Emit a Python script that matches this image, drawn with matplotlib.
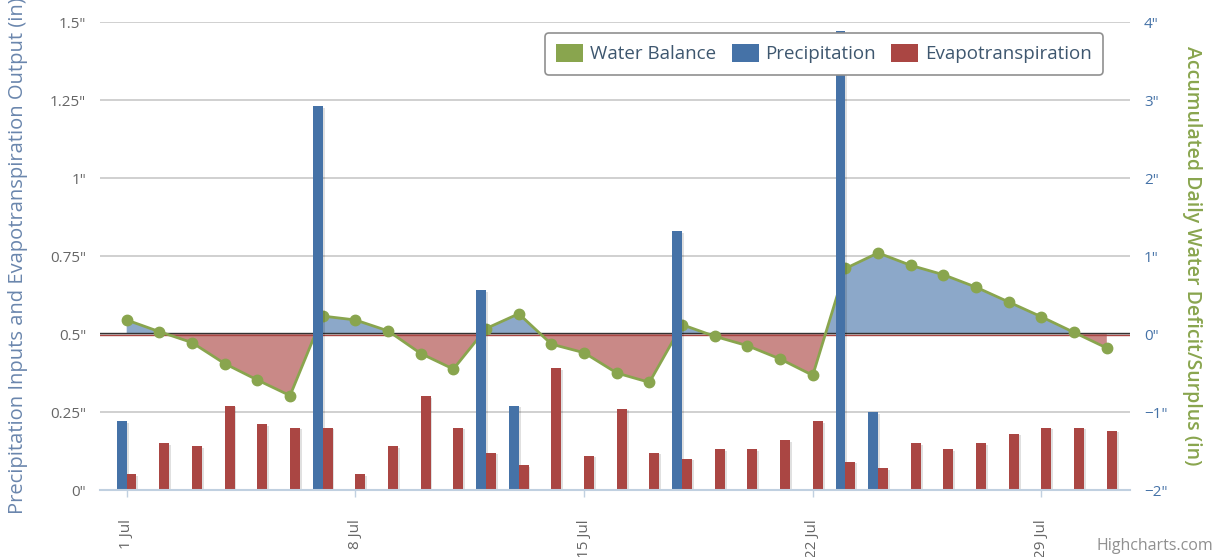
import numpy as np
import matplotlib
matplotlib.use('Agg')
import matplotlib.pyplot as plt
from matplotlib.patches import Patch

plt.rcParams['font.family'] = ['Open Sans', 'DejaVu Sans']

# Daily data for July
days = np.arange(1, 32)
precip = [0.22, 0, 0, 0, 0, 0, 1.23, 0, 0, 0, 0, 0.64, 0.27, 0, 0, 0, 0, 0.83,
          0, 0, 0, 0, 1.47, 0.25, 0, 0, 0, 0, 0, 0, 0]
et = [0.05, 0.15, 0.14, 0.27, 0.21, 0.20, 0.20, 0.05, 0.14, 0.30, 0.20, 0.12,
      0.08, 0.39, 0.11, 0.26, 0.12, 0.10, 0.13, 0.13, 0.16, 0.22, 0.09, 0.07,
      0.15, 0.13, 0.15, 0.18, 0.20, 0.20, 0.19]
balance = [0.18, 0.03, -0.11, -0.38, -0.59, -0.79, 0.23, 0.18, 0.04, -0.25,
           -0.45, 0.07, 0.26, -0.13, -0.24, -0.50, -0.62, 0.12, -0.03, -0.15,
           -0.32, -0.53, 0.84, 1.04, 0.88, 0.76, 0.60, 0.41, 0.22, 0.02, -0.18]
tick_days = [1, 8, 15, 22, 29]
tick_labels = ['1 Jul', '8 Jul', '15 Jul', '22 Jul', '29 Jul']

blue = '#4572A7'
red = '#AA4643'
green = '#89A54E'

fig = plt.figure(figsize=(12.21, 5.57), dpi=100)
ax = fig.add_axes([100 / 1221, 1 - 490 / 557, 1030 / 1221, 468 / 557])
ax2 = ax.twinx()
ax.set_zorder(2)
ax2.set_zorder(1)
ax.patch.set_visible(False)

# water balance area on the right axis
bal = np.array(balance)
ax2.grid(axis='y', color='#c8c8c8', lw=1.2)
ax2.set_axisbelow(True)
ax2.fill_between(days, bal, 0, where=bal >= 0, interpolate=True,
                 color='#8ca8c9', lw=0, zorder=2)
ax2.fill_between(days, bal, 0, where=bal <= 0, interpolate=True,
                 color='#c98987', lw=0, zorder=2)
ax2.axhline(-0.01, color=red, lw=1.0, zorder=3)
ax2.axhline(0.012, color='#333333', lw=1.0, zorder=3)
ax2.plot(days, bal, color=green, lw=2, marker='o', ms=7.5, zorder=4)

# bars on the left axis, with a soft shadow
w = 0.3
for d, p, e in zip(days, precip, et):
    if p > 0:
        ax.bar(d - w / 2 + 0.045, p - 0.005, width=w + 0.03, color='black',
               alpha=0.12, lw=0, zorder=1)
    ax.bar(d + w / 2 + 0.045, e - 0.005, width=w + 0.03, color='black',
           alpha=0.12, lw=0, zorder=1)
ax.bar(days - w / 2, precip, width=w, color=blue, lw=0, zorder=2)
ax.bar(days + w / 2, et, width=w, color=red, lw=0, zorder=2)

ax.set_xlim(0.183, 31.71)
ax.set_ylim(0, 1.5)
ax2.set_ylim(-2, 4)

ax.set_yticks([0, 0.25, 0.5, 0.75, 1, 1.25, 1.5])
ax.set_yticklabels(['0"', '0.25"', '0.5"', '0.75"', '1"', '1.25"', '1.5"'])
ax2.set_yticks([-2, -1, 0, 1, 2, 3, 4])
ax2.set_yticklabels(['\u22122"', '\u22121"', '0"', '1"', '2"', '3"', '4"'])
ax.set_xticks(tick_days)
ax.set_xticklabels(tick_labels, rotation=90, ha='center', va='top')

ax.tick_params(axis='y', length=0, pad=10, labelsize=11, labelcolor='#666666')
ax2.tick_params(axis='y', length=0, pad=10, labelsize=11, labelcolor=blue)
ax.tick_params(axis='x', length=5, width=1, color='#C0D0E0', pad=16,
               labelsize=11, labelcolor='#666666')

for s in ax.spines.values():
    s.set_visible(False)
for s in ax2.spines.values():
    s.set_visible(False)
ax.spines['bottom'].set_visible(True)
ax.spines['bottom'].set_color('#C0D0E0')
ax.spines['bottom'].set_linewidth(1.5)

# axis titles
fig.text(18 / 1221, 1 - 256 / 557,
         'Precipitation Inputs and Evapotranspiration Output (in)',
         rotation=90, ha='center', va='center', fontsize=14.5, color='#6a86ad')
fig.text(1192 / 1221, 1 - 256 / 557,
         'Accumulated Daily Water Deficit/Surplus (in)', rotation=270,
         ha='center', va='center', fontsize=14, color=green,
         fontweight='semibold')

handles = [Patch(facecolor=green, label='Water Balance'),
           Patch(facecolor=blue, label='Precipitation'),
           Patch(facecolor=red, label='Evapotranspiration')]
leg = fig.legend(handles=handles, loc='upper right', ncol=3,
                 bbox_to_anchor=(1103 / 1221, 1 - 33 / 557), borderaxespad=0,
                 frameon=True, fancybox=True, edgecolor='#909090',
                 framealpha=1, fontsize=13.5, handlelength=1.44,
                 handleheight=1.07, columnspacing=0.8, handletextpad=0.37,
                 borderpad=0.6, labelcolor='#3e576f')
leg.get_frame().set_linewidth(1.2)

fig.text(1213 / 1221, 1 - 546 / 557, 'Highcharts.com', ha='right',
         va='center', fontsize=11.5, color='#909090')

fig.savefig('out.png', dpi=100)
